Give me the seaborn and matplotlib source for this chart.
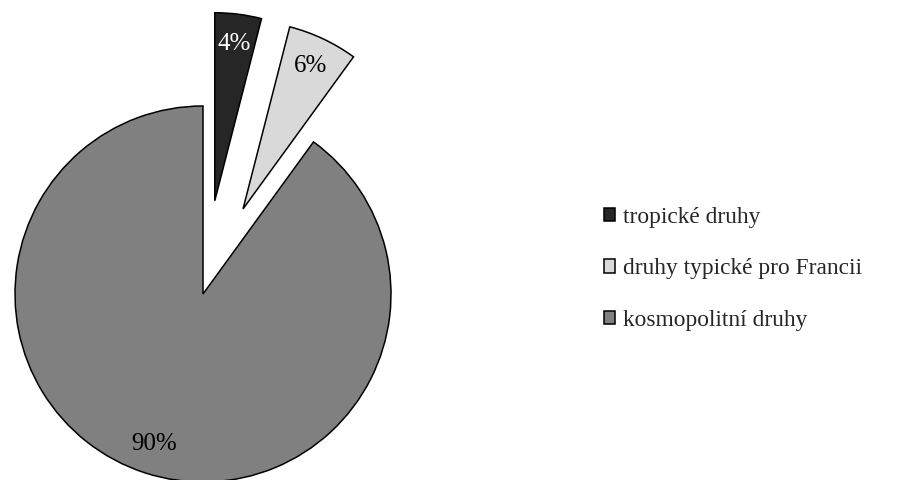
import matplotlib
matplotlib.use("Agg")
import matplotlib.pyplot as plt
import seaborn as sns

categories = ["tropické druhy", "druhy typické pro Francii", "kosmopolitní druhy"]
values = [4, 6, 90]
colors = ["#262626", "#d9d9d9", "#808080"]
explode = [0.5, 0.5, 0.0]

sns.set_theme(style="white")
plt.rcParams["font.family"] = ["Liberation Serif", "DejaVu Serif"]

fig = plt.figure(figsize=(9.12, 4.8), dpi=100)
ax = fig.add_axes([0, 0, 1, 1])

cx, cy, r = 203.0, 294.0, 188.0
W, H = 912.0, 480.0

wedges, texts, autotexts = ax.pie(
    values,
    explode=explode,
    colors=colors,
    startangle=90,
    counterclock=False,
    autopct=lambda p: f"{p:.0f}%",
    pctdistance=0.84,
    wedgeprops=dict(edgecolor="black", linewidth=1.1),
    textprops=dict(fontsize=18, color="black"),
    radius=1.0,
)
autotexts[0].set_color("white")

ax.set_xlim(-cx / r, (W - cx) / r)
ax.set_ylim(-(H - cy) / r, cy / r)
ax.set_aspect("equal")
ax.axis("off")

leg = ax.legend(
    wedges, categories,
    loc="center left",
    bbox_to_anchor=(0.662, 0.440),
    bbox_transform=fig.transFigure,
    frameon=False,
    fontsize=16.8,
    handlelength=0.5,
    handleheight=0.5,
    handletextpad=0.34,
    labelspacing=1.32,
    borderpad=0,
    borderaxespad=0,
)

fig.savefig("out.png", dpi=100, facecolor="white")
